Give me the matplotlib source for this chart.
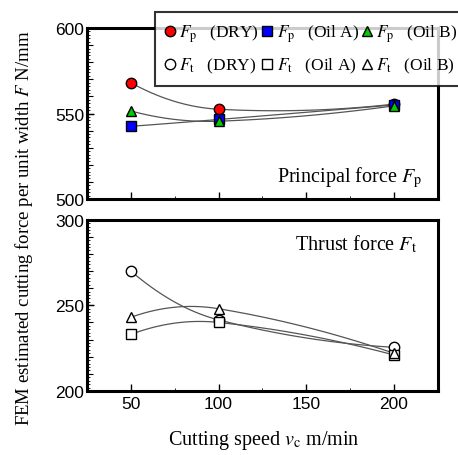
import numpy as np
import matplotlib
matplotlib.use('Agg')
import matplotlib.pyplot as plt
from matplotlib.ticker import MultipleLocator
from matplotlib.lines import Line2D

plt.rcParams['font.family'] = 'Liberation Serif'
plt.rcParams['mathtext.fontset'] = 'stix'

# cutting speed (m/min)
speed = [50, 100, 200]

# principal force Fp (N/mm)
fp_dry = [568, 552.5, 555.5]
fp_oil_a = [542.5, 546.5, 555]
fp_oil_b = [551.5, 545.5, 554.5]

# thrust force Ft (N/mm)
ft_dry = [270, 241.5, 225.5]
ft_oil_a = [233, 240, 221]
ft_oil_b = [243, 248, 222]

fig = plt.figure(figsize=(4.58, 4.56), dpi=100)
ax1 = fig.add_axes([0.19, 0.5614, 0.766, 0.375])
ax2 = fig.add_axes([0.19, 0.1404, 0.766, 0.3757])

def curve_line(ax, y):
    # smooth connecting line: two quadratic pieces sharing a tangent at the middle point
    x0, x1, x2 = speed
    y0, y1, y2 = y
    c1 = (y1 - y0) / (x1 - x0)
    c2 = (y2 - y1) / (x2 - x1)
    m = 0.75 * c2 + 0.25 * c1
    for xe, ye in ((x0, y0), (x2, y2)):
        t = np.linspace(0, xe - x1, 60)
        a = (ye - y1 - m * (xe - x1)) / (xe - x1) ** 2
        ax.plot(x1 + t, y1 + m * t + a * t**2, color='#555555', lw=0.9, zorder=2)

styles = [('o', 'red'), ('s', 'blue'), ('^', '#00cc00')]

for (m, c), y in zip(styles, [fp_dry, fp_oil_a, fp_oil_b]):
    curve_line(ax1, y)
    ax1.plot(speed, y, ls='none', marker=m, ms=7.5, mfc=c, mec='black', mew=1.0, zorder=3)

for (m, c), y in zip(styles, [ft_dry, ft_oil_a, ft_oil_b]):
    curve_line(ax2, y)
    ax2.plot(speed, y, ls='none', marker=m, ms=7.5, mfc='white', mec='black', mew=1.0, zorder=3)

for ax, lo in ((ax1, 500), (ax2, 200)):
    ax.set_xlim(25, 225)
    ax.set_ylim(lo, lo + 100)
    ax.xaxis.set_major_locator(MultipleLocator(50))
    ax.xaxis.set_minor_locator(MultipleLocator(25))
    ax.yaxis.set_major_locator(MultipleLocator(50))
    ax.yaxis.set_minor_locator(MultipleLocator(2))
    ax.tick_params(which='both', direction='in', top=False, right=False)
    ax.tick_params(which='major', length=5, width=1)
    ax.tick_params(which='minor', length=2.5, width=0.6)
    ax.tick_params(axis='y', pad=2)
    # medium ticks every 10
    tens = np.arange(lo + 10, lo + 100, 10)
    ax.plot(np.full(len(tens), 25), tens, ls='none', marker=1, ms=4, mew=0.8,
            color='black', clip_on=False, zorder=4)
    for s in ax.spines.values():
        s.set_linewidth(2.2)
    for lab in ax.get_xticklabels() + ax.get_yticklabels():
        lab.set_fontfamily('Liberation Sans')
        lab.set_fontsize(12.5)

ax1.tick_params(labelbottom=False)

ax1.text(0.955, 0.06, r'Principal force $F_\mathrm{p}$', transform=ax1.transAxes,
         ha='right', va='bottom', fontsize=14.5)
ax2.text(0.94, 0.86, r'Thrust force $F_\mathrm{t}$', transform=ax2.transAxes,
         ha='right', va='center', fontsize=14.5)

fig.text(0.052, 0.5, r'FEM estimated cutting force per unit width $F$ N/mm',
         rotation=90, ha='center', va='center', fontsize=13.5)
fig.text(0.577, 0.035, r'Cutting speed $v_\mathrm{c}$ m/min', ha='center', va='center',
         fontsize=14.5)

names = ['DRY', 'Oil A', 'Oil B']
handles = []
labels = []
for (m, c), n in zip(styles, names):
    handles.append(Line2D([], [], ls='none', marker=m, ms=7.5, mfc=c, mec='black', mew=1.0))
    labels.append(r'$F_\mathrm{p}$   (' + n + ')')
    handles.append(Line2D([], [], ls='none', marker=m, ms=7.5, mfc='white', mec='black', mew=1.0))
    labels.append(r'$F_\mathrm{t}$   (' + n + ')')

leg = fig.legend(handles, labels, ncol=3, loc='upper left',
                 bbox_to_anchor=(155 / 458, 1 - 13 / 456), fontsize=12.5,
                 frameon=True, fancybox=False, handlelength=0.5, handletextpad=0.3,
                 columnspacing=0.2, borderpad=0.6, labelspacing=0.7,
                 borderaxespad=0)
leg.get_frame().set_edgecolor('black')
leg.get_frame().set_linewidth(1.5)

fig.savefig('out.png', dpi=100)
